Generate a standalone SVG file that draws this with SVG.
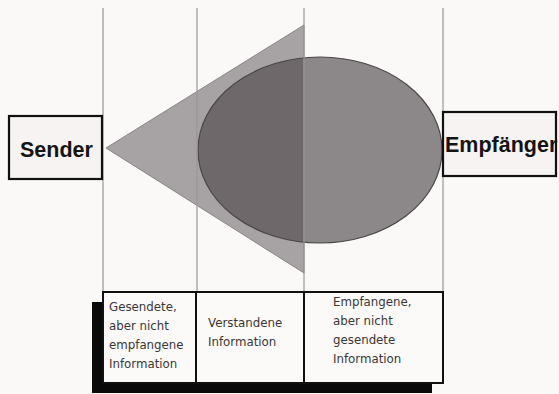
<svg xmlns="http://www.w3.org/2000/svg" width="559" height="394" viewBox="0 0 559 394">
<style>
.guide{stroke:#9a9696;stroke-width:1.2;fill:none}
.box{fill:#f6f3f2;stroke:#111;stroke-width:2.2}
.lbl{font-family:"Liberation Sans",Arial,sans-serif;font-weight:bold;font-size:21.5px;fill:#141414}
.cell{fill:#fbfaf9;stroke:#111;stroke-width:2}
.ct{font-family:"DejaVu Sans","Liberation Sans",sans-serif;font-size:11.8px;fill:#3a3636}
</style>
<defs>
<clipPath id="leftHalf"><rect x="0" y="0" width="303.5" height="394"/></clipPath>
<clipPath id="rightHalf"><rect x="303.5" y="0" width="260" height="394"/></clipPath>
</defs>
<rect width="559" height="394" fill="#fbf9f8"/>
<g id="shapes">
<polygon points="106,148 304,25 304,273" fill="#a7a3a4" stroke="#8a8586" stroke-width="1"/>
<ellipse cx="320" cy="150" rx="122" ry="93" fill="#8c8788" clip-path="url(#rightHalf)"/>
<ellipse cx="320" cy="150" rx="122" ry="93" fill="#6e686a" clip-path="url(#leftHalf)"/>
<ellipse cx="320" cy="150" rx="122" ry="93" fill="none" stroke="#4a4646" stroke-width="1.2"/>
</g>
<g id="connectors">
<line class="guide" x1="103" y1="8" x2="103" y2="292"/>
<line class="guide" x1="197" y1="8" x2="197" y2="292"/>
<line class="guide" x1="304" y1="8" x2="304" y2="292"/>
<line class="guide" x1="443" y1="8" x2="443" y2="292"/>
</g>
<g id="sender">
<rect class="box" x="9" y="116" width="93" height="63"/>
<text class="lbl" x="20" y="157">Sender</text>
</g>
<g id="empfaenger">
<rect class="box" x="443" y="112" width="113" height="64"/>
<text class="lbl" x="445" y="152">Empfänger</text>
</g>
<g id="table">
<rect x="92" y="302" width="340" height="91" fill="#0a0a0a"/>
<g id="cell1">
<rect class="cell" x="103" y="292" width="93" height="91"/>
<text class="ct" x="109" y="311">Gesendete,</text>
<text class="ct" x="109" y="330">aber nicht</text>
<text class="ct" x="109" y="349">empfangene</text>
<text class="ct" x="109" y="368">Information</text>
</g>
<g id="cell2">
<rect class="cell" x="196" y="292" width="108" height="91"/>
<text class="ct" x="208" y="327">Verstandene</text>
<text class="ct" x="208" y="346">Information</text>
</g>
<g id="cell3">
<rect class="cell" x="304" y="292" width="139" height="91"/>
<text class="ct" x="333" y="306">Empfangene,</text>
<text class="ct" x="333" y="325">aber nicht</text>
<text class="ct" x="333" y="344">gesendete</text>
<text class="ct" x="333" y="363">Information</text>
</g>
</g>
</svg>
